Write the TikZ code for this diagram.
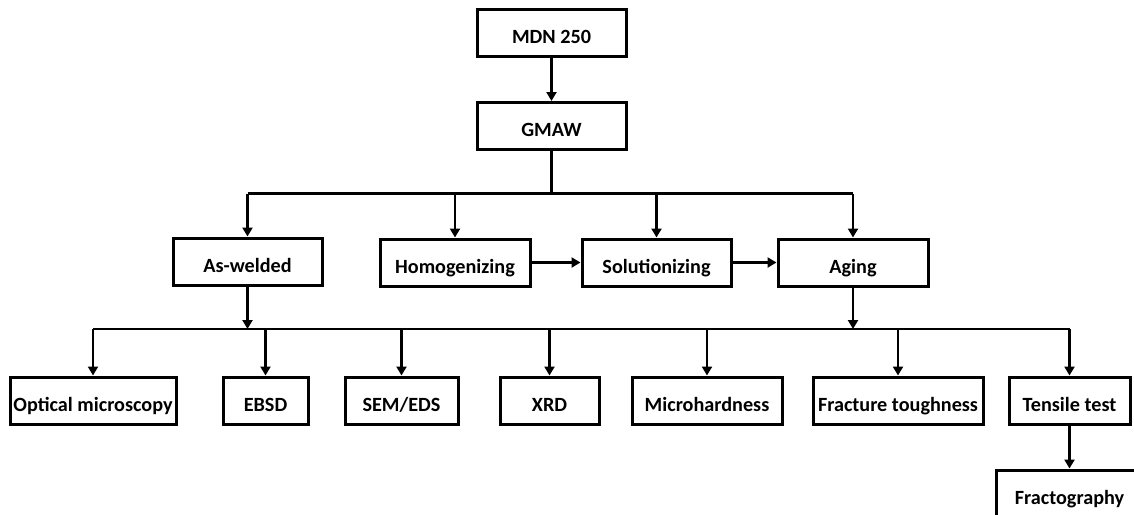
\documentclass[tikz,border=0pt]{standalone}
\usepackage{fontspec}
\setmainfont{Carlito}
\usetikzlibrary{arrows.meta}

\begin{document}
\begin{tikzpicture}[x=0.5pt,y=-0.5pt,
  box/.style={draw=black, line width=1.5pt, minimum height=23.5pt, inner sep=0pt,
    text height=10.5pt, text depth=0pt, font=\bfseries\fontsize{10.1}{12}\selectfont},
  link/.style={draw=black, line width=1.4pt},
  arr/.style={link, -{Triangle[length=4.5pt,width=5pt]}}]
\useasboundingbox (0,0) rectangle (1134,514);
\node [box, minimum width=74.5pt] (mdn) at (551.5,32.5) {MDN 250};
\node [box, minimum width=74.5pt] (gmaw) at (551.5,126) {GMAW};
\node [box, minimum width=74.5pt] (aswelded) at (247.5,261.5) {As-welded};
\node [box, minimum width=75pt] (homog) at (455,262.5) {Homogenizing};
\node [box, minimum width=74.5pt] (solution) at (656.5,262.5) {Solutionizing};
\node [box, minimum width=75pt] (aging) at (853,262.5) {Aging};
\node [box, minimum width=83pt] (optical) at (93,400.5) {Optical microscopy};
\node [box, minimum width=42.5pt] (ebsd) at (265.5,400.5) {EBSD};
\node [box, minimum width=56.5pt] (sem) at (401.5,400.5) {SEM/EDS};
\node [box, minimum width=49.5pt] (xrd) at (549.5,400.5) {XRD};
\node [box, minimum width=75pt] (micro) at (707,400.5) {Microhardness};
\node [box, minimum width=85pt] (fracture) at (898,400.5) {Fracture toughness};
\node [box, minimum width=60.5pt] (tensile) at (1069.5,400.5) {Tensile test};
\node [box, minimum width=73pt] (fracto) at (1069.5,493.5) {Fractography};
\coordinate (top) at (551.5,193.5);
\coordinate (bot) at (551.5,329);
\draw [arr] (mdn) -- (gmaw);
\draw [link] (gmaw) -- (top);
\draw [link] (aswelded.north |- top) -- (aging.north |- top);
\draw [arr] (aswelded.north |- top) -- (aswelded.north);
\draw [arr] (homog.north |- top) -- (homog.north);
\draw [arr] (solution.north |- top) -- (solution.north);
\draw [arr] (aging.north |- top) -- (aging.north);
\draw [arr] (homog) -- (solution);
\draw [arr] (solution) -- (aging);
\draw [arr] (aswelded.south) -- (aswelded.south |- bot);
\draw [arr] (aging.south) -- (aging.south |- bot);
\draw [link] (optical.north |- bot) -- (tensile.north |- bot);
\draw [arr] (optical.north |- bot) -- (optical.north);
\draw [arr] (ebsd.north |- bot) -- (ebsd.north);
\draw [arr] (sem.north |- bot) -- (sem.north);
\draw [arr] (xrd.north |- bot) -- (xrd.north);
\draw [arr] (micro.north |- bot) -- (micro.north);
\draw [arr] (fracture.north |- bot) -- (fracture.north);
\draw [arr] (tensile.north |- bot) -- (tensile.north);
\draw [arr] (tensile) -- (fracto);
\end{tikzpicture}
\end{document}
